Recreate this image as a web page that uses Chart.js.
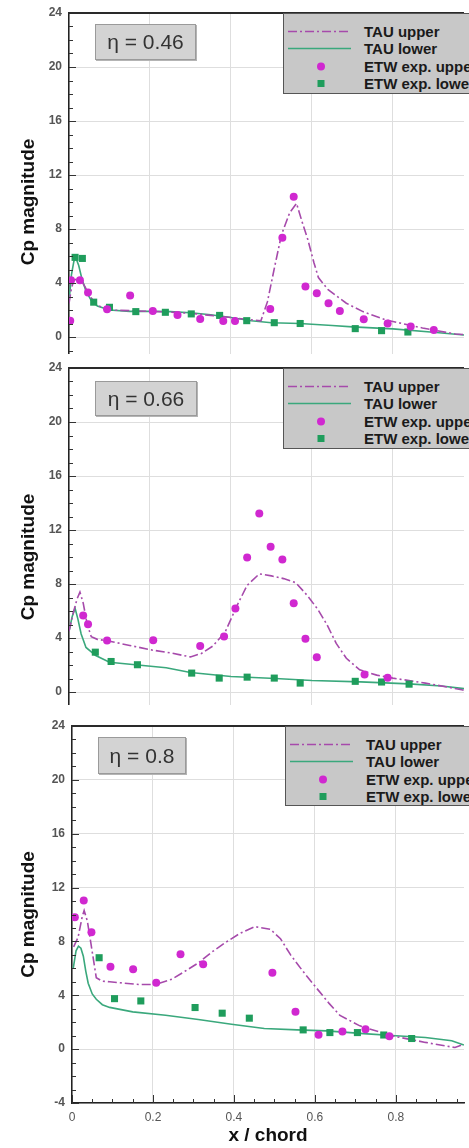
<!DOCTYPE html>
<html><head><meta charset="utf-8">
<script src="https://cdn.jsdelivr.net/npm/chart.js@4.4.1/dist/chart.umd.min.js"></script>
<style>
html,body{margin:0;padding:0;background:#fff;width:469px;height:1148px;overflow:hidden;font-family:"Liberation Sans",Arial,sans-serif;}
.panel{position:absolute;left:0;width:469px;background:#fff;overflow:hidden;}
.panel canvas{position:absolute;left:0;top:0;}
.eta{position:absolute;background:#d3d3d3;border:1px solid #9a9a9a;box-shadow:1px 1px 0 #b4b4b4;color:#333;font-size:21px;display:flex;align-items:center;justify-content:center;box-sizing:border-box;}
.legend{position:absolute;width:230px;background:#c8c8c8;border:1px solid #555;box-sizing:border-box;}
.legend .row{position:absolute;left:0;height:17px;width:230px;}
.legend svg{position:absolute;left:0;top:0;}
.legend span{position:absolute;left:80px;top:0;line-height:17px;font-size:15px;font-weight:bold;color:#1a1a1a;white-space:nowrap;}
</style></head><body>
<script>
// ---------- data ----------
const xTickValues = [0, 0.2, 0.4, 0.6, 0.8];
const yTickValues = [-4, 0, 4, 8, 12, 16, 20, 24];
const etaLabels = ['\u03B7 = 0.46', '\u03B7 = 0.66', '\u03B7 = 0.8'];
const legendLabels = ['TAU upper', 'TAU lower', 'ETW exp. upper', 'ETW exp. lower'];

// eta = 0.46
const expU46X = [0.003, 0.005, 0.027, 0.047, 0.094, 0.151, 0.207, 0.268, 0.324, 0.381, 0.41, 0.497, 0.527, 0.555, 0.584, 0.612, 0.641, 0.669, 0.728, 0.787, 0.844, 0.901];
const expU46Y = [1.2, 4.2, 4.2, 3.3, 2.05, 3.07, 1.93, 1.63, 1.34, 1.19, 1.19, 2.08, 7.36, 10.38, 3.74, 3.25, 2.5, 1.93, 1.31, 1.0, 0.77, 0.52];
const expL46X = [0.015, 0.033, 0.061, 0.1, 0.165, 0.238, 0.302, 0.372, 0.439, 0.507, 0.571, 0.707, 0.772, 0.837];
const expL46Y = [5.9, 5.82, 2.58, 2.2, 1.88, 1.83, 1.71, 1.6, 1.21, 1.06, 1.0, 0.62, 0.47, 0.37];
const tauU46X = [0, 0.006, 0.012, 0.02, 0.03, 0.04, 0.05, 0.065, 0.08, 0.1, 0.15, 0.2, 0.25, 0.3, 0.35, 0.4, 0.44, 0.474, 0.49, 0.51, 0.525, 0.545, 0.562, 0.575, 0.59, 0.605, 0.616, 0.64, 0.685, 0.726, 0.783, 0.873, 0.954, 0.976];
const tauU46Y = [2.5, 3.6, 4.2, 4.3, 4.2, 3.7, 3.1, 2.5, 2.2, 2.0, 1.95, 1.9, 1.85, 1.75, 1.6, 1.45, 1.3, 1.2, 2.6, 5.5, 7.6, 9.2, 9.9, 8.6, 7.2, 5.5, 4.4, 3.5, 2.5, 1.88, 1.26, 0.67, 0.22, 0.18];
const tauL46X = [0, 0.006, 0.012, 0.017, 0.024, 0.032, 0.042, 0.055, 0.07, 0.1, 0.15, 0.2, 0.25, 0.3, 0.35, 0.4, 0.45, 0.5, 0.57, 0.65, 0.7, 0.8, 0.9, 0.976];
const tauL46Y = [2.6, 4.6, 5.6, 5.85, 5.3, 4.3, 3.4, 2.7, 2.3, 2.0, 1.9, 1.9, 1.88, 1.8, 1.65, 1.45, 1.2, 1.05, 1.0, 0.85, 0.75, 0.6, 0.35, 0.15];

// eta = 0.66
const expU66X = [0.035, 0.047, 0.094, 0.208, 0.324, 0.383, 0.411, 0.44, 0.47, 0.498, 0.527, 0.555, 0.584, 0.612, 0.73, 0.787];
const expU66Y = [5.66, 5.02, 3.82, 3.84, 3.4, 4.11, 6.18, 9.97, 13.22, 10.76, 9.82, 6.57, 3.94, 2.58, 1.3, 1.05];
const expL66X = [0.065, 0.104, 0.169, 0.303, 0.371, 0.44, 0.507, 0.571, 0.707, 0.772, 0.84];
const expL66Y = [2.95, 2.26, 2.02, 1.4, 1.03, 1.1, 1.03, 0.66, 0.79, 0.74, 0.58];
const tauU66X = [0, 0.01, 0.02, 0.027, 0.035, 0.045, 0.055, 0.07, 0.094, 0.15, 0.206, 0.25, 0.3, 0.327, 0.355, 0.385, 0.415, 0.44, 0.47, 0.5, 0.53, 0.56, 0.59, 0.615, 0.637, 0.66, 0.685, 0.718, 0.76, 0.8, 0.88, 0.97, 0.976];
const tauU66Y = [4.5, 5.8, 6.9, 7.4, 6.6, 5.0, 4.1, 3.9, 3.8, 3.45, 3.1, 2.9, 2.6, 2.85, 3.4, 4.4, 6.4, 7.9, 8.75, 8.6, 8.4, 8.1, 7.1, 6.1, 5.0, 3.6, 2.5, 1.64, 1.25, 1.03, 0.66, 0.17, 0.12];
const tauL66X = [0, 0.008, 0.015, 0.022, 0.03, 0.042, 0.066, 0.1, 0.17, 0.24, 0.3, 0.4, 0.51, 0.6, 0.72, 0.84, 0.92, 0.976];
const tauL66Y = [4.5, 5.6, 6.2, 5.4, 4.3, 3.3, 2.7, 2.2, 2.0, 1.8, 1.45, 1.15, 1.0, 0.85, 0.75, 0.6, 0.45, 0.25];

// eta = 0.8
const expU80X = [0.007, 0.029, 0.048, 0.095, 0.151, 0.208, 0.268, 0.324, 0.495, 0.552, 0.609, 0.668, 0.725, 0.784];
const expU80Y = [9.8, 11.04, 8.69, 6.12, 5.93, 4.94, 7.04, 6.3, 5.68, 2.77, 1.06, 1.31, 1.48, 0.95];
const expL80X = [0.067, 0.105, 0.17, 0.304, 0.371, 0.438, 0.571, 0.637, 0.705, 0.77, 0.839];
const expL80Y = [6.79, 3.75, 3.58, 3.09, 2.67, 2.3, 1.43, 1.23, 1.23, 1.05, 0.79];
const tauU80X = [0.004, 0.015, 0.025, 0.03, 0.038, 0.047, 0.06, 0.075, 0.093, 0.13, 0.166, 0.206, 0.247, 0.28, 0.312, 0.345, 0.378, 0.415, 0.451, 0.49, 0.515, 0.54, 0.57, 0.605, 0.635, 0.662, 0.711, 0.79, 0.873, 0.946, 0.968];
const tauU80Y = [7.6, 8.3, 9.8, 10.3, 9.5, 7.8, 5.3, 5.05, 5.0, 4.9, 4.8, 4.8, 5.2, 5.8, 6.4, 7.2, 7.9, 8.6, 9.1, 8.9, 8.2, 7.0, 5.8, 4.5, 3.4, 2.5, 1.73, 0.99, 0.5, 0.12, 0.37];
const tauL80X = [0.003, 0.01, 0.016, 0.022, 0.028, 0.034, 0.04, 0.05, 0.06, 0.075, 0.093, 0.15, 0.231, 0.312, 0.394, 0.475, 0.556, 0.629, 0.72, 0.8, 0.873, 0.938, 0.968];
const tauL80Y = [6.0, 7.3, 7.65, 7.5, 6.9, 5.8, 4.9, 4.1, 3.7, 3.3, 3.1, 2.77, 2.52, 2.2, 1.85, 1.53, 1.43, 1.36, 1.15, 1.0, 0.87, 0.62, 0.3];

// ---------- styling / layout ----------
const MAG_PT = '#d028d0';
const GRN_PT = '#1f9d5c';
const MAG_LN = '#a64aab';
const GRN_LN = '#3aa87c';
const FONT = '"Liberation Sans", Arial, sans-serif';

const panels = [
  {top: 0,   padTop: 13, yW: 69, h: 436, eta: {l: 95, t: 24, w: 101, h: 36}, legL: 283, legH: 81,
   d: [expU46X, expU46Y, expL46X, expL46Y, tauU46X, tauU46Y, tauL46X, tauL46Y]},
  {top: 354, padTop: 14, yW: 69, h: 437, eta: {l: 95, t: 381, w: 102, h: 35}, legL: 283, legH: 81,
   d: [expU66X, expU66Y, expL66X, expL66Y, tauU66X, tauU66Y, tauL66X, tauL66Y]},
  {top: 705, padTop: 21, yW: 72, h: 443, eta: {l: 98, t: 737, w: 88, h: 37}, legL: 285, legH: 80,
   d: [expU80X, expU80Y, expL80X, expL80Y, tauU80X, tauU80Y, tauL80X, tauL80Y]}
];

function toPts(xs, ys) { return xs.map((x, i) => ({x: x, y: ys[i]})); }

const framePlugin = {
  id: 'frame',
  afterDraw(chart) {
    const {ctx, chartArea: a, scales: {x, y}} = chart;
    ctx.save();
    ctx.strokeStyle = '#333';
    ctx.lineWidth = 1;
    for (let v = -4; v <= 24; v += 1) {
      const py = Math.round(y.getPixelForValue(v)) + 0.5;
      const len = (v % 4 === 0) ? 7 : 4;
      ctx.beginPath(); ctx.moveTo(a.left, py); ctx.lineTo(a.left + len, py); ctx.stroke();
    }
    for (let k = 0; k <= 20; k++) {
      const v = k * 0.05;
      if (v > x.max) break;
      const px = Math.round(x.getPixelForValue(v)) + 0.5;
      const len = (k % 4 === 0) ? 8 : 4;
      ctx.beginPath(); ctx.moveTo(px, a.bottom); ctx.lineTo(px, a.bottom - len); ctx.stroke();
    }
    ctx.strokeStyle = '#2a2a2a';
    ctx.lineWidth = 2;
    ctx.beginPath(); ctx.moveTo(a.left - 1, a.top); ctx.lineTo(a.right, a.top); ctx.stroke();
    ctx.restore();
  }
};

function legendSample(i) {
  if (i === 0) return `<line x1="4" y1="8.5" x2="67" y2="8.5" stroke="${MAG_LN}" stroke-width="1.6" stroke-dasharray="9 3 2 3"/>`;
  if (i === 1) return `<line x1="4" y1="8.5" x2="67" y2="8.5" stroke="${GRN_LN}" stroke-width="1.6"/>`;
  if (i === 2) return `<circle cx="37" cy="8.5" r="4" fill="${MAG_PT}"/>`;
  return `<rect x="33.5" y="5" width="7" height="7" fill="${GRN_PT}"/>`;
}

panels.forEach((p, idx) => {
  const div = document.createElement('div');
  div.className = 'panel';
  div.style.top = p.top + 'px';
  div.style.height = p.h + 'px';
  div.style.zIndex = String(idx + 1);
  document.body.appendChild(div);
  const cv = document.createElement('canvas');
  cv.width = 469; cv.height = p.h;
  cv.style.width = '469px'; cv.style.height = p.h + 'px';
  div.appendChild(cv);

  const xMax = (469 - p.yW) / 410;
  const [eux, euy, elx, ely, tux, tuy, tlx, tly] = p.d;

  new Chart(cv, {
    type: 'scatter',
    data: {datasets: [
      {label: legendLabels[2], data: toPts(eux, euy), pointStyle: 'circle', pointRadius: 4, backgroundColor: MAG_PT, borderWidth: 0, order: 0},
      {label: legendLabels[3], data: toPts(elx, ely), pointStyle: 'rect', pointRadius: 5, backgroundColor: GRN_PT, borderWidth: 0, order: 0},
      {label: legendLabels[0], data: toPts(tux, tuy), showLine: true, pointRadius: 0, borderColor: MAG_LN, borderWidth: 1.6, borderDash: [9, 3, 2, 3], order: 1, tension: 0},
      {label: legendLabels[1], data: toPts(tlx, tly), showLine: true, pointRadius: 0, borderColor: GRN_LN, borderWidth: 1.6, order: 1, tension: 0}
    ]},
    options: {
      responsive: false, animation: false, events: [],
      layout: {padding: {top: p.padTop, left: 0, right: 0, bottom: 0}},
      plugins: {legend: {display: false}, tooltip: {enabled: false}},
      scales: {
        x: {
          type: 'linear', min: 0, max: xMax,
          afterBuildTicks: s => { s.ticks = xTickValues.map(v => ({value: v})); },
          afterFit: s => { s.height = 45; s.paddingLeft = 0; s.paddingRight = 0; },
          grid: {color: '#dedede', lineWidth: 1, drawTicks: false},
          border: {display: true, color: '#222', width: 1.5},
          ticks: {padding: 7, color: '#555', font: {family: FONT, size: 12}, callback: v => String(+Number(v).toFixed(2))},
          title: {display: true, text: 'x / chord', color: '#111', font: {family: FONT, size: 19, weight: 'bold'}, padding: {top: 0, bottom: 1}}
        },
        y: {
          type: 'linear', min: -4, max: 24,
          afterBuildTicks: s => { s.ticks = yTickValues.map(v => ({value: v})); },
          afterFit: s => { s.width = p.yW; s.paddingTop = 0; s.paddingBottom = 0; },
          grid: {color: '#dedede', lineWidth: 1, drawTicks: false},
          border: {display: true, color: '#222', width: 1.5},
          ticks: {padding: 7, color: '#555', font: {family: FONT, size: 12, weight: 'bold'}, callback: v => String(v)},
          title: {display: true, text: 'Cp magnitude', color: '#111', font: {family: FONT, size: 19, weight: 'bold'}, padding: {top: 17, bottom: 0}}
        }
      }
    },
    plugins: [framePlugin]
  });

  const eta = document.createElement('div');
  eta.className = 'eta';
  eta.style.left = p.eta.l + 'px';
  eta.style.top = (p.eta.t - p.top) + 'px';
  eta.style.width = p.eta.w + 'px';
  eta.style.height = p.eta.h + 'px';
  eta.textContent = etaLabels[idx];
  div.appendChild(eta);

  const leg = document.createElement('div');
  leg.className = 'legend';
  leg.style.left = p.legL + 'px';
  leg.style.top = p.padTop + 'px';
  leg.style.height = p.legH + 'px';
  const rowTops = [9, 26, 44, 61];
  legendLabels.forEach((t, i) => {
    const r = document.createElement('div');
    r.className = 'row';
    r.style.top = rowTops[i] + 'px';
    r.innerHTML = `<svg width="72" height="17">${legendSample(i)}</svg><span>${t}</span>`;
    leg.appendChild(r);
  });
  div.appendChild(leg);
});
</script>
</body></html>
